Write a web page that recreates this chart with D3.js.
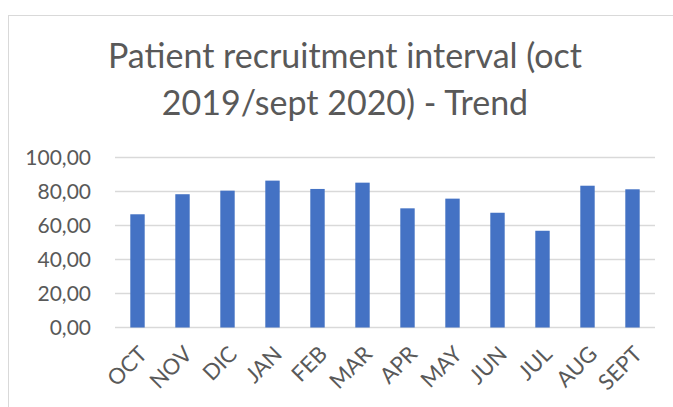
<!DOCTYPE html>
<html lang="en">
<head>
    <meta charset="UTF-8">
    <title>Patient recruitment interval</title>
    <script src="https://d3js.org/d3.v7.min.js"></script>
    <style>
        body { margin: 0; background: #fff; }
        text { font-family: Lato, "Open Sans", sans-serif; fill: #595959; }
    </style>
</head>
<body>
    <div id="plot"></div>

    <script>
        // values
        let months = ['OCT', 'NOV', 'DIC', 'JAN', 'FEB', 'MAR', 'APR', 'MAY', 'JUN', 'JUL', 'AUG', 'SEPT'];
        let interval = [66.6, 78.4, 80.5, 86.4, 81.5, 85.2, 70.1, 75.8, 67.5, 56.9, 83.4, 81.3];
        let yTicks = [0, 20, 40, 60, 80, 100];
        let titleLines = ['Patient recruitment interval (oct', '2019/sept 2020) - Trend'];

        function translate(x, y){
            return 'translate(' + x + ', ' + y + ')';
        }

        let svgWidth = 673;
        let svgHeight = 407;
        let margin = {top: 157.5, right: 18, bottom: 79.5, left: 115};
        let width = svgWidth - margin.left - margin.right;
        let height = svgHeight - margin.top - margin.bottom;

        let svg = d3.select('#plot')
                    .append('svg')
                        .attr('width', svgWidth)
                        .attr('height', svgHeight);

        // chart frame
        svg.append('rect')
            .attr('x', 8.5)
            .attr('y', 15.5)
            .attr('width', 680)
            .attr('height', 420)
            .attr('fill', 'none')
            .attr('stroke', '#d9d9d9');

        svg.selectAll('.title')
            .data(titleLines)
            .enter()
            .append('text')
            .attr('class', 'title')
            .attr('x', 345)
            .attr('y', (d, i) => 68 + i * 47)
            .attr('text-anchor', 'middle')
            .style('font-size', '34px')
            .text(d => d);

        let g = svg.append('g')
                    .attr('transform', translate(margin.left, margin.top));

        let x = d3.scaleBand()
                    .domain(months)
                    .range([0, width])
                    .paddingInner(0.68)
                    .paddingOuter(0.34);

        let y = d3.scaleLinear()
                    .domain([0, 100])
                    .range([height, 0]);

        // gridlines
        g.selectAll('.grid')
            .data(yTicks)
            .enter()
            .append('line')
            .attr('x1', 0)
            .attr('x2', width)
            .attr('y1', d => y(d))
            .attr('y2', d => y(d))
            .attr('stroke', '#d9d9d9')
            .attr('stroke-width', 1.3);

        g.selectAll('rect.bar')
            .data(interval)
            .enter()
            .append('rect')
            .attr('class', 'bar')
            .attr('x', (d, i) => x(months[i]))
            .attr('y', d => y(d))
            .attr('width', x.bandwidth())
            .attr('height', d => y(0) - y(d))
            .attr('fill', '#4472c4');

        let yAxis = d3.axisLeft(y)
                        .tickValues(yTicks)
                        .tickSize(0)
                        .tickPadding(24)
                        .tickFormat(d => d3.format('.2f')(d).replace('.', ','));

        g.append('g')
            .call(yAxis)
            .call(a => a.select('.domain').remove())
            .selectAll('text')
                .style('font-size', '21px')
                .attr('fill', '#595959');

        let xAxis = d3.axisBottom(x).tickSize(0).tickPadding(0);

        g.append('g')
            .attr('transform', translate(0, height))
            .call(xAxis)
            .call(a => a.select('.domain').remove())
            .selectAll('text')
                .style('font-size', '22px')
                .attr('fill', '#595959')
                .attr('text-anchor', 'end')
                .attr('dy', 0)
                .attr('transform', 'translate(11, 28) rotate(-45)');
    </script>
</body>
</html>
